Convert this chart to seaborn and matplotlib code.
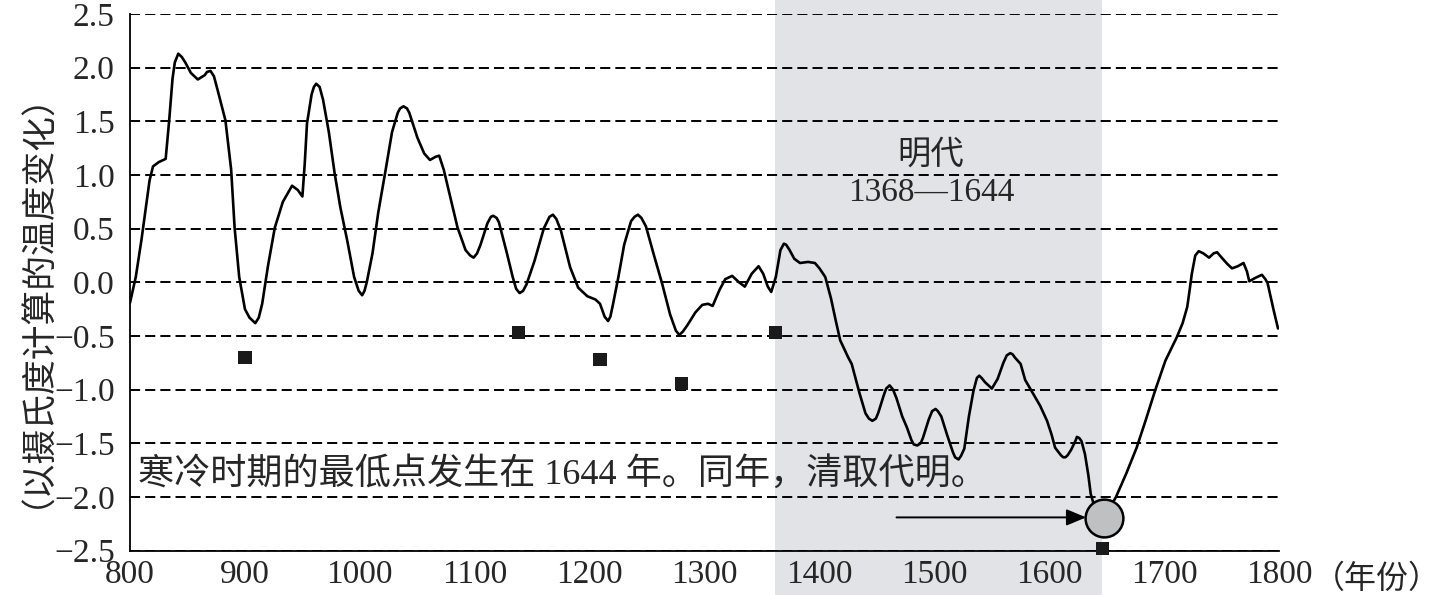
import seaborn as sns
import matplotlib.pyplot as plt
from matplotlib.ticker import MultipleLocator

# temperature anomaly curve
years = [800, 805, 810, 817, 820, 825, 831, 834, 837, 839, 842, 845, 848, 853, 859, 865, 867, 870, 873, 876,
         883, 888, 891, 895, 900, 904, 909, 912, 915, 920, 926, 933, 941, 946, 950, 952, 954, 958, 960, 962,
         965, 968, 973, 978, 983, 989, 995, 999, 1002, 1004, 1006, 1011, 1016, 1022, 1028, 1033, 1035, 1038, 1041, 1043,
         1050, 1056, 1061, 1066, 1069, 1073, 1079, 1085, 1092, 1096, 1099, 1102, 1105, 1111, 1114, 1116, 1119, 1121, 1128, 1133,
         1136, 1139, 1142, 1145, 1152, 1160, 1165, 1168, 1171, 1175, 1183, 1190, 1198, 1205, 1209, 1213, 1216, 1218, 1220, 1225,
         1230, 1236, 1239, 1242, 1245, 1249, 1256, 1263, 1270, 1275, 1278, 1281, 1285, 1292, 1298, 1303, 1307, 1313, 1318, 1324,
         1330, 1335, 1341, 1347, 1351, 1355, 1358, 1362, 1366, 1369, 1371, 1374, 1378, 1383, 1390, 1396, 1400, 1405, 1410, 1414,
         1418, 1425, 1428, 1432, 1435, 1440, 1443, 1446, 1449, 1451, 1456, 1458, 1461, 1464, 1467, 1472, 1476, 1480, 1482, 1485,
         1488, 1490, 1495, 1498, 1501, 1503, 1506, 1511, 1516, 1518, 1521, 1523, 1526, 1530, 1534, 1537, 1539, 1541, 1544, 1550,
         1555, 1560, 1563, 1566, 1568, 1570, 1575, 1579, 1585, 1592, 1598, 1602, 1605, 1610, 1612, 1614, 1616, 1619, 1623, 1624,
         1626, 1628, 1629, 1631, 1634, 1636, 1640, 1645, 1650, 1658, 1667, 1676, 1684, 1692, 1701, 1706, 1711, 1716, 1720, 1722,
         1724, 1727, 1730, 1734, 1739, 1743, 1746, 1750, 1755, 1759, 1764, 1769, 1772, 1774, 1779, 1785, 1788, 1790, 1795, 1799]
temp = [-0.19, 0.05, 0.40, 0.95, 1.08, 1.12, 1.15, 1.50, 1.90, 2.05, 2.13, 2.10, 2.05, 1.95, 1.89, 1.93, 1.96, 1.97, 1.92, 1.80,
        1.51, 1.05, 0.51, 0.05, -0.25, -0.33, -0.38, -0.33, -0.20, 0.15, 0.51, 0.75, 0.90, 0.86, 0.80, 1.10, 1.48, 1.75, 1.82, 1.85,
        1.82, 1.70, 1.40, 1.02, 0.70, 0.39, 0.05, -0.08, -0.12, -0.08, 0.00, 0.27, 0.65, 1.02, 1.40, 1.58, 1.62, 1.64, 1.62, 1.58,
        1.35, 1.20, 1.14, 1.17, 1.18, 1.05, 0.78, 0.51, 0.30, 0.25, 0.23, 0.27, 0.35, 0.55, 0.61, 0.62, 0.60, 0.56, 0.27, 0.05,
        -0.06, -0.10, -0.08, -0.02, 0.20, 0.50, 0.61, 0.63, 0.59, 0.48, 0.14, -0.05, -0.13, -0.16, -0.20, -0.32, -0.36, -0.32, -0.22, 0.05,
        0.35, 0.57, 0.61, 0.63, 0.60, 0.52, 0.25, -0.01, -0.30, -0.45, -0.49, -0.46, -0.40, -0.28, -0.21, -0.20, -0.22, -0.07, 0.03, 0.06,
        0.00, -0.04, 0.08, 0.15, 0.08, -0.04, -0.09, 0.05, 0.30, 0.36, 0.35, 0.30, 0.22, 0.18, 0.19, 0.18, 0.13, 0.05, -0.15, -0.35,
        -0.54, -0.70, -0.76, -0.92, -1.04, -1.22, -1.27, -1.29, -1.27, -1.22, -1.05, -0.99, -0.96, -1.00, -1.08, -1.25, -1.35, -1.47, -1.51, -1.52,
        -1.50, -1.45, -1.28, -1.20, -1.18, -1.20, -1.25, -1.42, -1.58, -1.63, -1.65, -1.62, -1.55, -1.25, -1.01, -0.89, -0.87, -0.89, -0.93, -0.99,
        -0.90, -0.75, -0.68, -0.66, -0.67, -0.70, -0.76, -0.91, -1.02, -1.15, -1.29, -1.42, -1.54, -1.61, -1.63, -1.63, -1.61, -1.56, -1.47, -1.44,
        -1.45, -1.48, -1.52, -1.60, -1.80, -1.97, -2.12, -2.20, -2.15, -2.00, -1.78, -1.54, -1.28, -1.01, -0.73, -0.62, -0.51, -0.38, -0.23, -0.08,
        0.08, 0.25, 0.29, 0.27, 0.23, 0.27, 0.28, 0.23, 0.17, 0.13, 0.15, 0.18, 0.10, 0.01, 0.04, 0.07, 0.03, -0.01, -0.25, -0.43]

# black squares (cold events)
cold_years = [900, 1138, 1209, 1280, 1362, 1646]
cold_vals = [-0.70, -0.47, -0.72, -0.94, -0.47, -2.48]

# lowest point marker
low_year = [1648]
low_val = [-2.2]

ming_start, ming_end = 1361, 1646

xticks = [800, 900, 1000, 1100, 1200, 1300, 1400, 1500, 1600, 1700, 1800]
yticks = [2.5, 2.0, 1.5, 1.0, 0.5, 0.0, -0.5, -1.0, -1.5, -2.0, -2.5]
ytick_labels = ['2.5', '2.0', '1.5', '1.0', '0.5', '0.0', '\u22120.5', '\u22121.0', '\u22121.5', '\u22122.0', '\u22122.5']

sns.set_style('white')
plt.rcParams['font.family'] = ['Liberation Serif', 'Noto Sans CJK SC']

fig = plt.figure(figsize=(14.4, 5.95), dpi=100)
ax = fig.add_axes([0.0903, 0.0745, 0.798, 0.902])

# Ming dynasty band, runs past the axes to the figure edges
ax.axvspan(ming_start, ming_end, ymin=-0.09, ymax=1.03, color='#e1e3e6', lw=0, zorder=0, clip_on=False)

sns.lineplot(x=years, y=temp, color='black', lw=1.9, estimator=None, ax=ax, zorder=3)
sns.scatterplot(x=cold_years, y=cold_vals, marker='s', s=90, color='#1a1a1a', edgecolor='none',
                ax=ax, clip_on=False, zorder=4)
sns.scatterplot(x=low_year, y=low_val, marker='o', s=740, color='#bfc0c2', edgecolor='black',
                linewidth=1.8, ax=ax, clip_on=False, zorder=5)

ax.annotate('', xy=(1632, -2.19), xytext=(1467, -2.19),
            arrowprops=dict(arrowstyle='-|>,head_length=0.6,head_width=0.25', color='black',
                            lw=1.4, shrinkA=0, shrinkB=0, mutation_scale=20))

ax.set_xlim(800, 1800)
ax.set_ylim(-2.5, 2.5)
ax.set_xticks(xticks)
ax.xaxis.set_minor_locator(MultipleLocator(50))
ax.set_yticks(yticks)
ax.set_yticklabels(ytick_labels)
ax.grid(axis='y', color='black', linestyle=(0, (5.2, 2.6)), linewidth=1.4)
ax.grid(axis='x', visible=False)

ax.tick_params(axis='x', which='both', direction='in', length=6, width=1.3, labelsize=24, pad=6, color='black')
ax.tick_params(axis='y', direction='out', length=7, width=1.3, labelsize=24, pad=4, color='black')
sns.despine(ax=ax)
for s in ['left', 'bottom']:
    ax.spines[s].set_color('black')
    ax.spines[s].set_linewidth(1.3)

ax.set_xlabel('')
ax.set_ylabel('（以摄氏度计算的温度变化）', fontsize=25)
ax.yaxis.set_label_coords(-0.081, 0.5)
ax.text(1.0296, -0.026, '（年份）', transform=ax.transAxes, ha='left', va='top', fontsize=23)

ax.text(1497, 1.18, '明代', ha='center', va='center', fontsize=24)
ax.text(1497, 0.83, '1368—1644', ha='center', va='center', fontsize=24)
ax.text(807, -1.79, '寒冷时期的最低点发生在 1644 年。同年，清取代明。', ha='left', va='center', fontsize=26)

fig.savefig('out.png', dpi=100)
